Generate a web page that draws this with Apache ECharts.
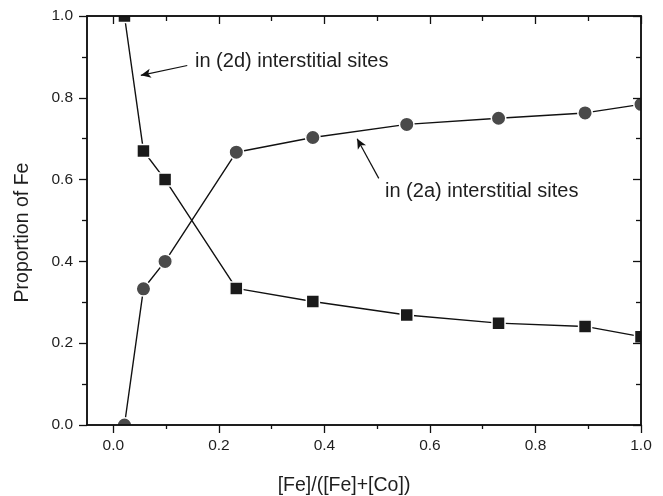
<!DOCTYPE html>
<html>
<head>
<meta charset="utf-8">
<script src="https://cdn.jsdelivr.net/npm/echarts@6/dist/echarts.min.js"></script>
<style>
  html, body { margin: 0; padding: 0; background: #fff; }
  #chart { width: 663px; height: 496px; }
</style>
</head>
<body>
<div id="chart"></div>
<script>
// Fe fraction [Fe]/([Fe]+[Co]) for each sample
const feFraction = [0.021, 0.057, 0.098, 0.233, 0.378, 0.556, 0.730, 0.894, 1.0];
// proportion of Fe occupying the (2d) interstitial sites
const sites2d = [1.0, 0.67, 0.60, 0.334, 0.302, 0.269, 0.249, 0.241, 0.216];
// proportion of Fe occupying the (2a) interstitial sites
const sites2a = [0.0, 0.333, 0.40, 0.667, 0.703, 0.735, 0.750, 0.763, 0.784];

const xMajorTicks = [0.0, 0.2, 0.4, 0.6, 0.8, 1.0];
const xMinorTicks = [0.1, 0.3, 0.5, 0.7, 0.9];
const yMajorTicks = [0.0, 0.2, 0.4, 0.6, 0.8, 1.0];
const yMinorTicks = [0.1, 0.3, 0.5, 0.7, 0.9];

const FONT = '"Liberation Sans", Arial, Helvetica, sans-serif';
const TXT = '#1e1e1e';
const X_MIN = -0.05, X_MAX = 1.0, Y_MIN = 0, Y_MAX = 1.0;

// plot frame in pixels
const W = 663, H = 496;
const G = { left: 87, right: 22, top: 16, bottom: 71 };

function pairs(xs, ys) { return xs.map((x, i) => [x, ys[i]]); }

function axisCommon(ticks, len, inside, labels, margin) {
  return {
    z: 10,
    axisLine: { show: true, onZero: false, lineStyle: { color: '#111', width: 1.5 } },
    axisTick: { show: true, inside: inside, length: len, customValues: ticks,
                lineStyle: { color: '#111', width: 1.3 } },
    axisLabel: labels ? { show: true, customValues: ticks, margin: margin, fontFamily: FONT,
                          fontSize: 15.5, color: TXT, formatter: v => v.toFixed(1) }
                      : { show: false },
    splitLine: { show: false }
  };
}
function xAxisDef(pos, ticks, len, inside, labels) {
  return Object.assign({ type: 'value', position: pos, min: X_MIN, max: X_MAX },
                       axisCommon(ticks, len, inside, labels, 13));
}
function yAxisDef(pos, ticks, len, inside, labels) {
  return Object.assign({ type: 'value', position: pos, min: Y_MIN, max: Y_MAX },
                       axisCommon(ticks, len, inside, labels, 14));
}

// white masks around the frame so markers sitting on the border are cut off by it
const plotRight = W - G.right, plotBottom = H - G.bottom;
const masks = [
  [0, 0, G.left, H],
  [plotRight, 0, G.right, H],
  [0, 0, W, G.top],
  [0, plotBottom, W, G.bottom]
].map(r => ({ type: 'rect', z: 5, silent: true,
              shape: { x: r[0], y: r[1], width: r[2], height: r[3] },
              style: { fill: '#fff' } }));

const chart = echarts.init(document.getElementById('chart'), null, { renderer: 'canvas' });

const option = {
  animation: false,
  backgroundColor: '#fff',
  grid: { left: G.left, right: G.right, top: G.top, bottom: G.bottom, containLabel: false },
  xAxis: [
    xAxisDef('bottom', xMajorTicks, 8, false, true),
    xAxisDef('bottom', xMinorTicks, 4, false, false),
    xAxisDef('top', xMajorTicks, 8, true, false),
    xAxisDef('top', xMinorTicks, 5, true, false)
  ],
  yAxis: [
    yAxisDef('left', yMajorTicks, 8, false, true),
    yAxisDef('left', yMinorTicks, 5, false, false),
    yAxisDef('right', yMajorTicks, 8, true, false),
    yAxisDef('right', yMinorTicks, 5, true, false)
  ],
  series: [
    {
      name: 'in (2d) interstitial sites',
      type: 'line', xAxisIndex: 0, yAxisIndex: 0,
      data: pairs(feFraction, sites2d),
      symbol: 'rect', symbolSize: 13, clip: true, z: 3,
      lineStyle: { color: '#111', width: 1.4 },
      itemStyle: { color: '#1a1a1a', borderColor: '#fff', borderWidth: 1.5 }
    },
    {
      name: 'in (2a) interstitial sites',
      type: 'line', xAxisIndex: 0, yAxisIndex: 0,
      data: pairs(feFraction, sites2a),
      symbol: 'circle', symbolSize: 14.5, clip: true, z: 2,
      lineStyle: { color: '#111', width: 1.4 },
      itemStyle: { color: '#4a4a4a', borderColor: '#fff', borderWidth: 1.5 },
      markLine: {
        silent: true, symbol: ['none', 'arrow'], symbolSize: [7, 10],
        label: { show: false },
        lineStyle: { color: '#111', width: 1.2, type: 'solid' },
        data: [
          [{ coord: [0.140, 0.879] }, { coord: [0.052, 0.855] }],
          [{ coord: [0.503, 0.603] }, { coord: [0.462, 0.700] }]
        ]
      }
    }
  ],
  graphic: masks.concat([
    { type: 'text', z: 20, x: 195, y: 61,
      style: { text: 'in (2d) interstitial sites', fontFamily: FONT, fontSize: 20, fill: TXT,
               verticalAlign: 'middle' } },
    { type: 'text', z: 20, x: 385, y: 191,
      style: { text: 'in (2a) interstitial sites', fontFamily: FONT, fontSize: 20, fill: TXT,
               verticalAlign: 'middle' } },
    { type: 'text', z: 20, x: 344, y: 486,
      style: { text: '[Fe]/([Fe]+[Co])', fontFamily: FONT, fontSize: 19.5, fill: TXT,
               align: 'center', verticalAlign: 'middle' } },
    { type: 'text', z: 20, x: 23, y: 232.5, rotation: Math.PI / 2,
      style: { text: 'Proportion of Fe', fontFamily: FONT, fontSize: 19.5, fill: TXT,
               align: 'center', verticalAlign: 'middle' } }
  ])
};
chart.setOption(option);
</script>
</body>
</html>
